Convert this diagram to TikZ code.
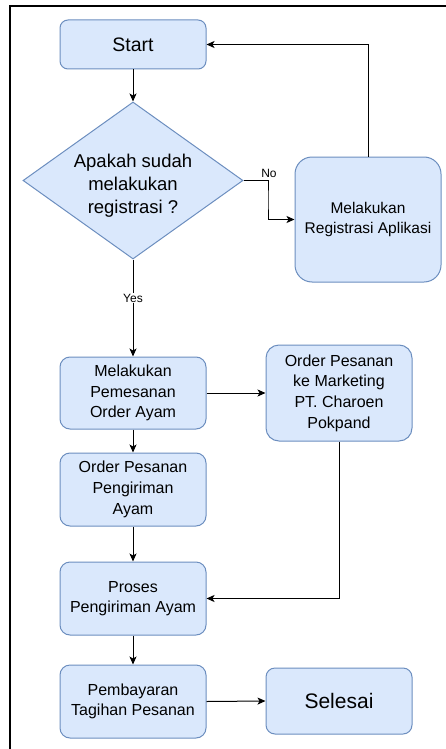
\documentclass[tikz,border=0pt]{standalone}
\usepackage{fontspec}
\setmainfont{Liberation Sans}
\usetikzlibrary{shapes.geometric,arrows.meta}
\definecolor{boxfill}{HTML}{DAE8FC}
\definecolor{boxline}{HTML}{6C8EBF}
\tikzset{
  x=1pt, y=-1pt,
  proc/.style={rectangle, draw=boxline, fill=boxfill, line width=1pt,
    minimum width=146pt, inner sep=0pt, align=center,
    font=\fontsize{16}{20.7}\selectfont},
  decision/.style={diamond, draw=boxline, fill=boxfill, line width=1pt,
    minimum width=220pt, minimum height=157pt, inner sep=0pt},
  arr/.style={draw=black, line width=1pt, -{Stealth[length=8pt,width=7pt,inset=2pt]}},
  tag/.style={fill=white, inner sep=1pt, font=\fontsize{12}{14}\selectfont}
}
\begin{document}
\begin{tikzpicture}
\useasboundingbox (0,0) rectangle (446,749);
% frame lines along the top and left edges
\draw[line width=2pt] (10,749) -- (10,6) -- (446,6);

% steps
\node[proc, minimum height=49pt, rounded corners=8pt,
  font=\fontsize{19.5}{23}\selectfont] (start) at (133,44.5) {Start};
\node[decision] (dec) at (133,180.5) {};
\node[align=center, inner sep=0pt, font=\fontsize{18.5}{23}\selectfont]
  (dectext) at (133,186) {Apakah sudah\\melakukan\\registrasi ?};
\node[proc, minimum height=125pt, rounded corners=17pt,
  font=\fontsize{15.5}{20}\selectfont] (reg) at (368,219.5)
  {Melakukan\\Registrasi Aplikasi};
\node[proc, minimum height=72pt, rounded corners=10pt] (pesan) at (133,393)
  {Melakukan\\Pemesanan\\Order Ayam};
\node[proc, minimum height=96pt, rounded corners=13pt] (mkt) at (339,393)
  {Order Pesanan\\ke Marketing\\PT. Charoen\\Pokpand};
\node[proc, minimum height=73pt, rounded corners=10pt] (kirim) at (133,489.5)
  {Order Pesanan\\Pengiriman\\Ayam};
\node[proc, minimum height=73pt, rounded corners=10pt] (proses) at (133,598.5)
  {Proses\\Pengiriman Ayam};
\node[proc, minimum height=73pt, rounded corners=10pt] (bayar) at (133,701.5)
  {Pembayaran\\Tagihan Pesanan};
\node[proc, minimum height=66pt, rounded corners=9pt,
  font=\fontsize{21}{25}\selectfont] (selesai) at (339,701) {Selesai};

% connectors
\coordinate (nobend) at (268,200);
\draw[arr] (start.south) -- (dec.north);
\draw[arr] (dec.east) -| (nobend) |- (reg.west);
\node[tag] (no) at (269,173) {No};
\draw[arr] (reg.north) |- (start.east);
\draw[arr] (dec.south) -- node[tag, pos=0.40] (yes) {Yes} (pesan.north);
\draw[arr] (pesan.east) -- (mkt.west);
\draw[arr] (pesan.south) -- (kirim.north);
\draw[arr] (kirim.south) -- (proses.north);
\draw[arr] (mkt.south) |- (proses.east);
\draw[arr] (proses.south) -- (bayar.north);
\draw[arr] (bayar.east) -- (selesai.west);
\end{tikzpicture}
\end{document}
